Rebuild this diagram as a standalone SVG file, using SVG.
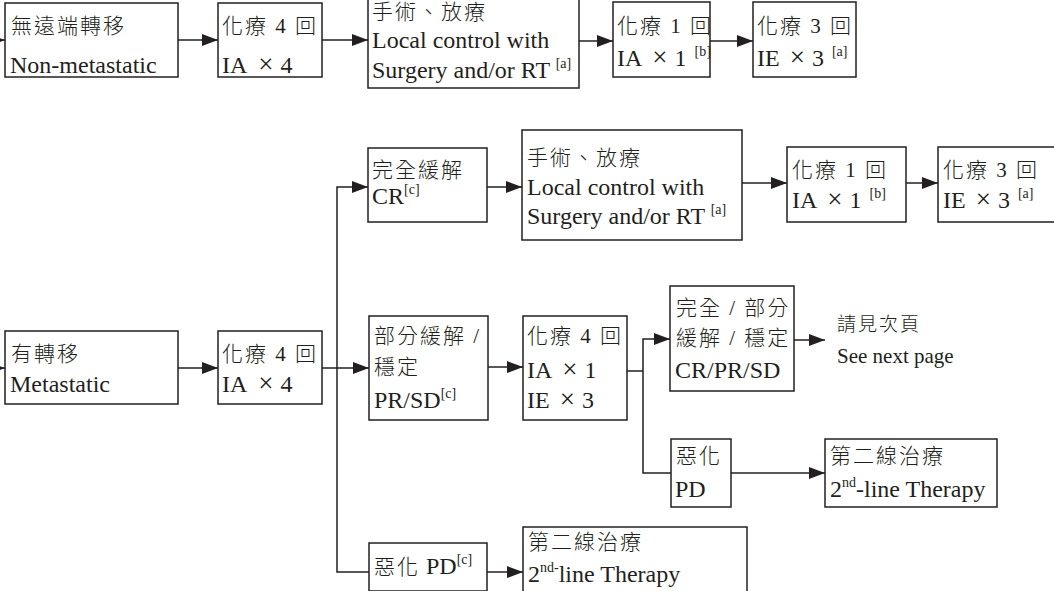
<svg xmlns="http://www.w3.org/2000/svg" width="1054" height="591" viewBox="0 0 1054 591">
<defs>
<marker id="ah" markerUnits="userSpaceOnUse" markerWidth="17" markerHeight="12" refX="16" refY="6" orient="auto">
<path d="M0,0 L16,6 L0,12 z" fill="#231f20"/>
</marker>
<style>
.box{fill:#fff;stroke:#231f20;stroke-width:1.5}
.ln{fill:none;stroke:#231f20;stroke-width:1.5}
.ar{fill:none;stroke:#231f20;stroke-width:1.5;marker-end:url(#ah)}
text{font-family:"Liberation Serif","Noto Sans CJK TC",serif;fill:#231f20}
.c{font-size:21px;letter-spacing:2px;font-weight:300}
.e{font-size:24px}
.s{font-size:14px}
.x{font-size:27px}
</style>
</defs>
<rect width="1054" height="591" fill="#fff"/>
<g id="connectors">
<line class="ar" x1="-20" y1="40" x2="5" y2="40"/>
<line class="ar" x1="178" y1="40" x2="218" y2="40"/>
<line class="ar" x1="322" y1="40" x2="368" y2="40"/>
<line class="ar" x1="579" y1="41" x2="613" y2="41"/>
<line class="ar" x1="710" y1="41" x2="753" y2="41"/>
<line class="ar" x1="-20" y1="368" x2="5" y2="368"/>
<line class="ar" x1="178" y1="368" x2="218" y2="368"/>
<line class="ln" x1="322" y1="368" x2="337" y2="368"/>
<polyline class="ar" points="369,572 337,572 337,187 368,187"/>
<line class="ar" x1="337" y1="368" x2="369" y2="368"/>
<line class="ar" x1="487" y1="187" x2="522" y2="187"/>
<line class="ar" x1="742" y1="183" x2="787" y2="183"/>
<line class="ar" x1="906" y1="183" x2="938" y2="183"/>
<line class="ar" x1="488" y1="367" x2="523" y2="367"/>
<line class="ln" x1="627" y1="371" x2="643" y2="371"/>
<polyline class="ar" points="671,473 643,473 643,339 670,339"/>
<line class="ar" x1="794" y1="340" x2="825" y2="340"/>
<line class="ar" x1="731" y1="473" x2="825" y2="473"/>
<line class="ar" x1="487" y1="572" x2="523" y2="572"/>
</g>
<g id="n-nonmet">
<rect class="box" x="5" y="3" width="173" height="74"/>
<text class="c" x="11" y="33">無遠端轉移</text>
<text class="e" x="10" y="73">Non-metastatic</text>
</g>
<g id="n-ia4-top">
<rect class="box" x="218" y="3" width="104" height="74"/>
<text class="c" x="222" y="33">化療 4 回</text>
<text class="e" x="222" y="73">IA<tspan class="x" dx="11">×</tspan><tspan dx="7">4</tspan></text>
</g>
<g id="n-local-top">
<rect class="box" x="368" y="-2" width="211" height="90"/>
<text class="c" x="372" y="19">手術、放療</text>
<text class="e" x="372" y="48">Local control with</text>
<text class="e" x="372" y="78">Surgery and/or RT <tspan class="s" dy="-10">[a]</tspan></text>
</g>
<g id="n-ia1-top">
<rect class="box" x="613" y="2" width="97" height="75"/>
<text class="c" x="617" y="33">化療 1 回</text>
<text class="e" x="617" y="66">IA<tspan class="x" dx="10">×</tspan><tspan dx="7">1</tspan><tspan class="s" dx="8" dy="-10">[b]</tspan></text>
</g>
<g id="n-ie3-top">
<rect class="box" x="753" y="2" width="103" height="75"/>
<text class="c" x="757" y="33">化療 3 回</text>
<text class="e" x="757" y="66">IE<tspan class="x" dx="10">×</tspan><tspan dx="7">3</tspan><tspan class="s" dx="8" dy="-10">[a]</tspan></text>
</g>
<g id="n-cr">
<rect class="box" x="368" y="148" width="119" height="74"/>
<text class="c" x="372" y="177">完全緩解</text>
<text class="e" x="372" y="204">CR<tspan class="s" dy="-10">[c]</tspan></text>
</g>
<g id="n-local-mid">
<rect class="box" x="522" y="130" width="220" height="110"/>
<text class="c" x="527" y="165">手術、放療</text>
<text class="e" x="527" y="195">Local control with</text>
<text class="e" x="527" y="224">Surgery and/or RT <tspan class="s" dy="-10">[a]</tspan></text>
</g>
<g id="n-ia1-mid">
<rect class="box" x="787" y="147" width="119" height="75"/>
<text class="c" x="792" y="177">化療 1 回</text>
<text class="e" x="792" y="208">IA<tspan class="x" dx="10">×</tspan><tspan dx="7">1</tspan><tspan class="s" dx="8" dy="-10">[b]</tspan></text>
</g>
<g id="n-ie3-mid">
<rect class="box" x="938" y="147" width="122" height="75"/>
<text class="c" x="943" y="177">化療 3 回</text>
<text class="e" x="943" y="208">IE<tspan class="x" dx="10">×</tspan><tspan dx="7">3</tspan><tspan class="s" dx="8" dy="-10">[a]</tspan></text>
</g>
<g id="n-met">
<rect class="box" x="5" y="331" width="173" height="73"/>
<text class="c" x="11" y="361">有轉移</text>
<text class="e" x="10" y="392">Metastatic</text>
</g>
<g id="n-ia4-met">
<rect class="box" x="218" y="331" width="104" height="73"/>
<text class="c" x="222" y="361">化療 4 回</text>
<text class="e" x="222" y="392">IA<tspan class="x" dx="11">×</tspan><tspan dx="7">4</tspan></text>
</g>
<g id="n-prsd">
<rect class="box" x="369" y="316" width="119" height="104"/>
<text class="c" x="374" y="343">部分緩解 /</text>
<text class="c" x="374" y="374">穩定</text>
<text class="e" x="374" y="408">PR/SD<tspan class="s" dy="-10">[c]</tspan></text>
</g>
<g id="n-chemo4">
<rect class="box" x="523" y="316" width="104" height="104"/>
<text class="c" x="527" y="343">化療 4 回</text>
<text class="e" x="527" y="378">IA<tspan class="x" dx="10">×</tspan><tspan dx="7">1</tspan></text>
<text class="e" x="527" y="408">IE<tspan class="x" dx="10">×</tspan><tspan dx="7">3</tspan></text>
</g>
<g id="n-crprsd">
<rect class="box" x="670" y="286" width="124" height="105"/>
<text class="c" x="676" y="315">完全 / 部分</text>
<text class="c" x="676" y="345">緩解 / 穩定</text>
<text class="e" x="675" y="378">CR/PR/SD</text>
</g>
<g id="n-next">
<text class="c" x="837" y="331" style="font-size:19px">請見次頁</text>
<text x="837" y="363" style="font-size:21px">See next page</text>
</g>
<g id="n-pd-mid">
<rect class="box" x="671" y="439" width="60" height="68"/>
<text class="c" x="676" y="463">惡化</text>
<text class="e" x="675" y="497">PD</text>
</g>
<g id="n-2nd-mid">
<rect class="box" x="825" y="439" width="172" height="68"/>
<text class="c" x="830" y="463">第二線治療</text>
<text class="e" x="830" y="497">2<tspan class="s" dy="-10">nd</tspan><tspan dy="10">-line Therapy</tspan></text>
</g>
<g id="n-pd-bot">
<rect class="box" x="369" y="543" width="118" height="48"/>
<text class="e" x="374" y="574"><tspan class="c">惡化</tspan> PD<tspan class="s" dy="-10">[c]</tspan></text>
</g>
<g id="n-2nd-bot">
<rect class="box" x="523" y="527" width="224" height="80"/>
<text class="c" x="528" y="549">第二線治療</text>
<text class="e" x="528" y="582">2<tspan class="s" dy="-10">nd-</tspan><tspan dy="10">line Therapy</tspan></text>
</g>
</svg>
